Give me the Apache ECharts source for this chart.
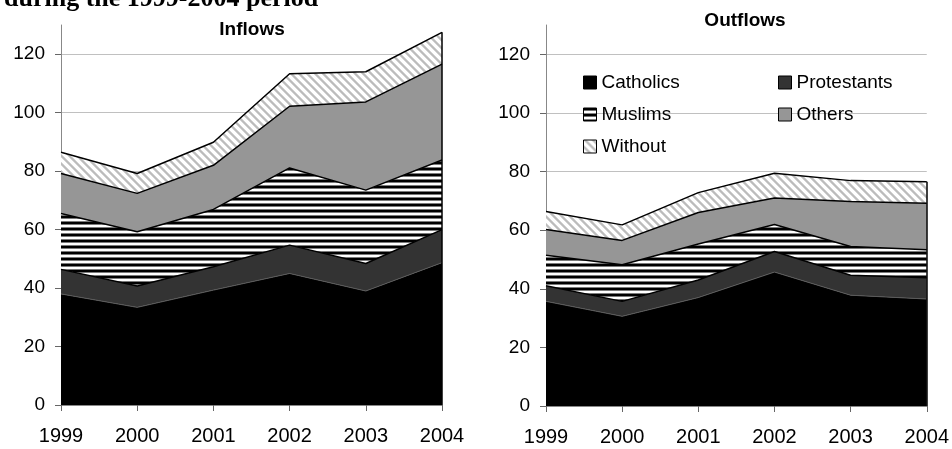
<!DOCTYPE html>
<html><head><meta charset="utf-8">
<script src="https://cdn.jsdelivr.net/npm/echarts@6/dist/echarts.min.js"></script>
<style>html,body{margin:0;padding:0;background:#fff}#c{width:952px;height:449px}</style>
</head><body><div id="c"></div>
<script>
const years = ['1999','2000','2001','2002','2003','2004'];
const yTicks = [0, 20, 40, 60, 80, 100, 120];
const seriesNames = ['Catholics', 'Protestants', 'Muslims', 'Others', 'Without'];

// Inflows
const inCatholics   = [38.0, 33.4, 39.3, 45.0, 39.0, 48.7];
const inProtestants = [8.4, 7.3, 8.0, 9.7, 9.4, 11.3];
const inMuslims     = [19.1, 18.6, 19.6, 26.4, 25.1, 23.8];
const inOthers      = [13.7, 13.1, 15.1, 21.1, 30.2, 32.8];
const inWithout     = [7.3, 6.8, 7.9, 11.1, 10.3, 10.9];

// Outflows
const outCatholics   = [35.7, 30.6, 37.0, 45.7, 37.8, 36.5];
const outProtestants = [5.3, 5.1, 6.0, 7.0, 6.8, 7.3];
const outMuslims     = [10.4, 12.5, 12.3, 9.2, 9.8, 9.5];
const outOthers      = [8.8, 8.3, 10.7, 9.1, 15.4, 15.9];
const outWithout     = [6.2, 5.3, 6.8, 8.4, 7.1, 7.3];

function hStripes() {
  const c = document.createElement('canvas'); c.width = 6; c.height = 6;
  const g = c.getContext('2d');
  g.fillStyle = '#fff'; g.fillRect(0, 0, 6, 6);
  g.fillStyle = '#000'; g.fillRect(0, 0, 6, 2);
  g.fillStyle = '#7a7a7a'; g.fillRect(0, 2, 6, 1); g.fillRect(0, 5, 6, 1);
  return c;
}
function dStripes() {
  const n = 8;
  const c = document.createElement('canvas'); c.width = n; c.height = n;
  const g = c.getContext('2d');
  g.fillStyle = '#fff'; g.fillRect(0, 0, n, n);
  for (let x = 0; x < n; x++) for (let y = 0; y < n; y++) {
    const v = ((x - y) % n + n) % n;
    if (v < 4) { g.fillStyle = (v === 0 || v === 3) ? '#d4d4d4' : '#bcbcbc'; g.fillRect(x, y, 1, 1); }
  }
  return c;
}
const fills = [
  '#000000',
  '#333333',
  { image: hStripes(), repeat: 'repeat' },
  '#969696',
  { image: dStripes(), repeat: 'repeat' }
];
const borders = ['#5a5a5a', '#000', '#000', '#000', '#000'];
const borderW = [1, 1.5, 1.5, 1.5, 1.5];

const FONT = '"Liberation Sans", Arial, sans-serif';

function makeSeries(datasets, idx, stackName) {
  const totals = years.map((_, i) => datasets.reduce((s, d) => s + d[i], 0));
  return datasets.map((d, k) => {
    const s = {
      name: seriesNames[k], type: 'line', stack: stackName,
      xAxisIndex: idx, yAxisIndex: idx, data: d,
      symbol: 'none', smooth: false, z: 3,
      itemStyle: { color: fills[k] },
      lineStyle: { color: borders[k], width: borderW[k] },
      areaStyle: { color: fills[k], opacity: 1 },
      emphasis: { disabled: true }, animation: false
    };
    if (k === datasets.length - 1) {
      s.markLine = {
        silent: true, symbol: 'none', label: { show: false }, animation: false,
        lineStyle: { color: '#000', width: 1.5, type: 'solid' },
        data: [[{ coord: [years[years.length - 1], 0] }, { coord: [years[years.length - 1], totals[totals.length - 1]] }]]
      };
    }
    return s;
  });
}

const grids = [
  { left: 61, right: 510, top: 25, bottom: 44 },
  { left: 546, right: 24, top: 25, bottom: 43 }
];
function xAx(i) {
  return {
    type: 'category', gridIndex: i, data: years, boundaryGap: false,
    axisLine: { show: true, lineStyle: { color: '#888', width: 1 } },
    axisTick: { show: true, length: 6, lineStyle: { color: '#666' } },
    axisLabel: { color: '#000', fontSize: 20, fontFamily: FONT, margin: 21 },
    splitLine: { show: false }
  };
}
function yAx(i) {
  return {
    type: 'value', gridIndex: i, min: 0, max: 130, interval: 20,
    axisLine: { show: true, lineStyle: { color: '#888', width: 1 } },
    axisTick: { show: true, length: 6, customValues: yTicks, lineStyle: { color: '#666' } },
    axisLabel: { color: '#000', fontSize: 19, fontFamily: FONT, margin: 16, customValues: yTicks },
    splitLine: { show: true, lineStyle: { color: '#c0c0c0', width: 1 } }
  };
}

const legendCommon = {
  orient: 'vertical', icon: 'rect', itemWidth: 13, itemHeight: 13, itemGap: 13,
  textStyle: { fontSize: 19, fontFamily: FONT, color: '#000' },
  itemStyle: { borderColor: '#000', borderWidth: 1 },
  selectedMode: false
};

const chart = echarts.init(document.getElementById('c'), null, { renderer: 'canvas' });
chart.setOption({
  animation: false,
  backgroundColor: '#fff',
  grid: grids,
  xAxis: [xAx(0), xAx(1)],
  yAxis: [yAx(0), yAx(1)],
  legend: [
    Object.assign({}, legendCommon, { left: 578, top: 68, data: ['Catholics', 'Muslims', 'Without'] }),
    Object.assign({}, legendCommon, { left: 773, top: 68, data: ['Protestants', 'Others'] })
  ],
  graphic: [
    { type: 'text', left: 4, top: -14, style: { text: 'during the 1999-2004 period', font: 'bold 26px "Liberation Serif", "Times New Roman", serif', fill: '#000' } },
    { type: 'text', x: 252, y: 30, style: { text: 'Inflows', font: 'bold 19px ' + FONT, fill: '#000', align: 'center', verticalAlign: 'middle' } },
    { type: 'text', x: 745, y: 21, style: { text: 'Outflows', font: 'bold 19px ' + FONT, fill: '#000', align: 'center', verticalAlign: 'middle' } }
  ],
  series: makeSeries([inCatholics, inProtestants, inMuslims, inOthers, inWithout], 0, 'in')
    .concat(makeSeries([outCatholics, outProtestants, outMuslims, outOthers, outWithout], 1, 'out'))
});
</script>
</body></html>
